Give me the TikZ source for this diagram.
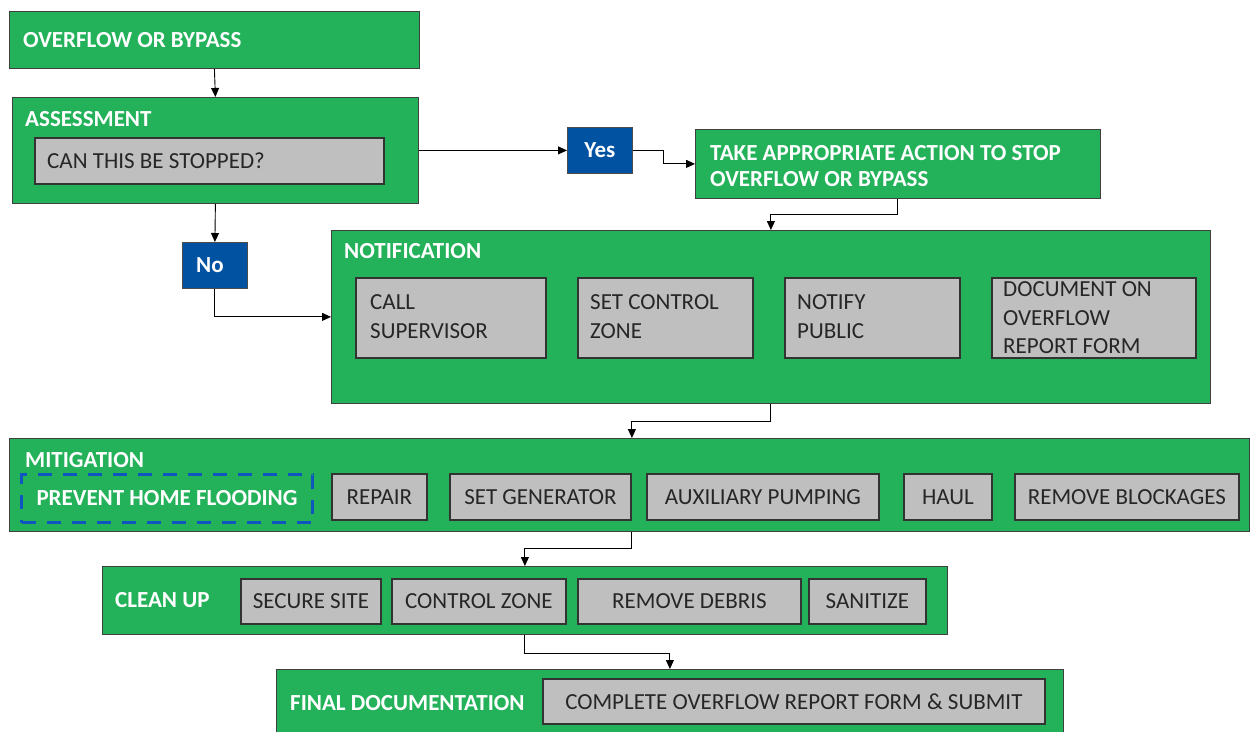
\documentclass[tikz,border=0pt]{standalone}
\usepackage{fontspec}
\setmainfont{Carlito}
\usetikzlibrary{arrows.meta}
\definecolor{flowgreen}{RGB}{35,178,90}
\definecolor{flowblue}{RGB}{2,82,162}
\definecolor{dashblue}{RGB}{16,86,190}
\definecolor{boxgray}{RGB}{191,191,191}
\newcommand{\headfont}{\fontsize{23}{28}\selectfont\bfseries}
\newcommand{\graytext}{\fontsize{23}{29}\selectfont}
\tikzset{
  greenbox/.style={draw=black!75, line width=0.8pt, fill=flowgreen, inner sep=0pt, anchor=north west},
  graybox/.style={draw=black!80, line width=1.8pt, fill=boxgray, inner sep=0pt, anchor=north west, font=\graytext, text=black!85},
  bluebox/.style={draw=black!70, line width=0.8pt, fill=flowblue, inner sep=0pt, anchor=north west, font=\headfont, text=white},
  dashbox/.style={draw=dashblue, line width=3pt, dash pattern=on 14pt off 11pt, inner sep=0pt, anchor=north west, font=\headfont, text=white},
  head/.style={anchor=base west, inner sep=0pt, font=\headfont, text=white},
  lbl/.style={anchor=base west, inner sep=0pt, font=\graytext, text=black!85},
  conn/.style={draw=black, line width=0.9pt, -{Triangle[length=9pt,width=8pt]}}
}
\begin{document}
\begin{tikzpicture}[x=1pt,y=-1pt]
\useasboundingbox[fill=white] (0,0) rectangle (1250,731);

% Overflow
\node[greenbox, minimum width=410pt, minimum height=57pt] (over) at (9,11) {};
\node[head] (overt) at (23,47) {OVERFLOW OR BYPASS};

% Assessment
\node[greenbox, minimum width=406pt, minimum height=106pt] (assess) at (12,97) {};
\node[head] (assesst) at (25,126) {ASSESSMENT};
\node[graybox, minimum width=349pt, minimum height=46pt] (ask) at (34,137) {};
\node[lbl] (askt) at (47,168) {CAN THIS BE STOPPED?};

% Yes / No
\node[bluebox, minimum width=65pt, minimum height=46pt] (no) at (182,242) {No\hspace*{10pt}};
\node[bluebox, minimum width=65pt, minimum height=46pt] (yes) at (567,127) {Yes};

% Take action
\node[greenbox, minimum width=405pt, minimum height=69pt] (act) at (695,129) {};
\node[head] (actt1) at (710,160) {TAKE APPROPRIATE ACTION TO STOP};
\node[head] (actt2) at (710,186) {OVERFLOW OR BYPASS};

% Notification
\node[greenbox, minimum width=879pt, minimum height=173pt] (notif) at (331,230) {};
\node[head] (notift) at (344,258) {NOTIFICATION};
\node[graybox, minimum width=190pt, minimum height=80pt] (call) at (355,277) {};
\node[lbl] (callt1) at (370,309) {CALL};
\node[lbl] (callt2) at (370,338) {SUPERVISOR};
\node[graybox, minimum width=175pt, minimum height=80pt] (setcz) at (577,277) {};
\node[lbl] (setczt1) at (590,309) {SET CONTROL};
\node[lbl] (setczt2) at (590,338) {ZONE};
\node[graybox, minimum width=175pt, minimum height=80pt] (notify) at (784,277) {};
\node[lbl] (notifyt1) at (797,309) {NOTIFY};
\node[lbl] (notifyt2) at (797,338) {PUBLIC};
\node[graybox, minimum width=204pt, minimum height=80pt] (docu) at (991,277) {};
\node[lbl] (docut1) at (1003,296) {DOCUMENT ON};
\node[lbl] (docut2) at (1003,325) {OVERFLOW};
\node[lbl] (docut3) at (1003,353) {REPORT FORM};

% Mitigation
\node[greenbox, minimum width=1240pt, minimum height=93pt] (mitig) at (9,438) {};
\node[head] (mitigt) at (25,467) {MITIGATION};
\node[dashbox, minimum width=291pt, minimum height=48pt] (prevent) at (20,473) {PREVENT HOME FLOODING};
\node[graybox, minimum width=95pt, minimum height=46pt] (repair) at (331,473) {REPAIR};
\node[graybox, minimum width=181pt, minimum height=46pt] (setgen) at (449,473) {SET GENERATOR};
\node[graybox, minimum width=232pt, minimum height=46pt] (aux) at (646,473) {AUXILIARY PUMPING};
\node[graybox, minimum width=88pt, minimum height=46pt] (haul) at (903,473) {HAUL};
\node[graybox, minimum width=224pt, minimum height=46pt] (remblk) at (1014,473) {REMOVE BLOCKAGES};

% Clean up
\node[greenbox, minimum width=845pt, minimum height=68pt] (clean) at (102,566) {};
\node[head] (cleant) at (115,607) {CLEAN UP};
\node[graybox, minimum width=140pt, minimum height=45pt] (secure) at (240,578) {SECURE SITE};
\node[graybox, minimum width=174pt, minimum height=45pt] (ctrlz) at (391,578) {CONTROL ZONE};
\node[graybox, minimum width=223pt, minimum height=45pt] (remdeb) at (577,578) {REMOVE DEBRIS};
\node[graybox, minimum width=117pt, minimum height=45pt] (sanit) at (808,578) {SANITIZE};

% Final documentation
\node[greenbox, minimum width=787pt, minimum height=75pt] (final) at (276,669) {};
\node[head] (finalt) at (290,710) {FINAL DOCUMENTATION};
\node[graybox, minimum width=502pt, minimum height=45pt] (complete) at (542,678) {COMPLETE OVERFLOW REPORT FORM \& SUBMIT};

% Connectors
\draw[conn] (over.south) -- (assess.north);
\draw[conn] (assess.south) -- (no.north);
\draw[conn] (no.south) |- (notif.west);
\draw[conn] (assess.east) -- (yes.west);
\draw[conn] (yes.east) -- ++(31,0) |- (act.west);
\draw[conn] (act.south) -- ++(0,16) -| (notif.north);
\draw[conn] (notif.south) -- ++(0,18) -| ([xshift=2.5pt]mitig.north);
\draw[conn] ([xshift=2.5pt]mitig.south) -- ++(0,17) -| (clean.north);
\draw[conn] (clean.south) -- ++(0,19) -| (final.north);
\end{tikzpicture}
\end{document}
